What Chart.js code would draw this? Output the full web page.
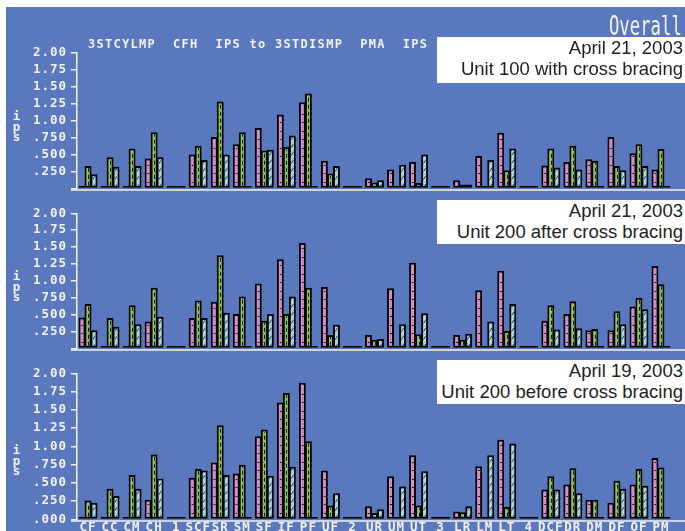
<!DOCTYPE html>
<html>
<head>
<meta charset="utf-8">
<script src="https://cdn.jsdelivr.net/npm/chart.js@4.4.1/dist/chart.umd.min.js"></script>
<style>
  html, body { margin: 0; padding: 0; }
  body { width: 685px; height: 531px; overflow: hidden; position: relative; background: #ffffff; }
  #bg { position: absolute; left: 6px; top: 7px; width: 679px; height: 524px; background: #5a78bd; }
  canvas { position: absolute; left: 0; }
  .mono { font-family: 'DejaVu Sans Mono', monospace; font-weight: bold; font-size: 12px; color: #f2f2f2; position: absolute; white-space: pre; }
  .box { position: absolute; left: 437px; width: 248px; background: #ffffff; }
  .boxtxt { position: absolute; right: 2px; top: 0; text-align: right; font-family: 'Liberation Sans', Arial, sans-serif; font-size: 18.5px; line-height: 21px; color: #222222; white-space: nowrap; }
  .ips { left: 11px; width: 11px; text-align: center; line-height: 10.5px; font-size: 12.5px; }
</style>
</head>
<body>
<div id="bg"></div>
<canvas id="c1" width="685" height="200" style="top:0px"></canvas>
<canvas id="c2" width="685" height="160" style="top:200px"></canvas>
<canvas id="c3" width="685" height="200" style="top:360px"></canvas>

<div class="mono" style="left:88px; top:38px; letter-spacing:1.28px; line-height:12px;">3STCYLMP  CFH  IPS to 3STDISMP  PMA  IPS</div>
<div style="position:absolute; right:3px; top:12px; font-family:'DejaVu Sans Mono', monospace; font-size:27px; line-height:27px; color:#f4f4f4; transform:scaleX(0.64); transform-origin:right top; white-space:pre;">Overall</div>

<div class="mono ips" style="top:111px;">i<br>p<br>s</div>
<div class="mono ips" style="top:271px;">i<br>p<br>s</div>
<div class="mono ips" style="top:445px;">i<br>p<br>s</div>

<div class="box" style="top:37px; height:46px;"><div class="boxtxt" style="top:0px;">April 21, 2003<br>Unit 100 with cross bracing</div></div>
<div class="box" style="top:200px; height:44px;"><div class="boxtxt" style="top:0px;">April 21, 2003<br>Unit 200 after cross bracing</div></div>
<div class="box" style="top:360px; height:44px;"><div class="boxtxt" style="top:0px;">April 19, 2003<br>Unit 200 before cross bracing</div></div>

<script>
// ---------------- DATA ----------------
const categories = ['CF','CC','CM','CH','1','SCF','SR','SM','SF','IF','PF','UF','2','UR','UM','UT','3','LR','LM','LT','4','DCF','DR','DM','DF','OF','PM'];

// Panel 1: April 21, 2003 - Unit 100 with cross bracing
const p1Pink  = [0, 0, 0, 0.44, 0, 0.50, 0.76, 0.65, 0.89, 1.09, 1.27, 0.41, 0, 0.15, 0.28, 0.39, 0, 0.12, 0.48, 0.82, 0, 0.34, 0.39, 0.43, 0.76, 0.52, 0.28];
const p1Green = [0.33, 0.46, 0.59, 0.83, 0, 0.63, 1.28, 0.83, 0.56, 0.61, 1.40, 0.22, 0, 0.09, 0, 0.08, 0, 0.06, 0, 0.27, 0, 0.59, 0.63, 0.41, 0.33, 0.65, 0.58];
const p1Cyan  = [0.21, 0.32, 0.33, 0.46, 0, 0.42, 0.50, 0, 0.57, 0.78, 0, 0.33, 0, 0.12, 0.35, 0.50, 0, 0.06, 0.42, 0.59, 0, 0.31, 0.28, 0, 0.27, 0.33, 0];

// Panel 2: April 21, 2003 - Unit 200 after cross bracing
const p2Pink  = [0.46, 0, 0, 0.40, 0, 0.45, 0.69, 0.51, 0.96, 1.32, 1.56, 0.91, 0, 0.20, 0.89, 1.27, 0, 0.20, 0.86, 1.15, 0, 0.41, 0.51, 0.27, 0.27, 0.62, 1.22];
const p2Green = [0.66, 0.45, 0.64, 0.90, 0, 0.71, 1.38, 0.77, 0.41, 0.51, 0.90, 0.20, 0, 0.13, 0, 0.21, 0, 0.13, 0, 0.26, 0, 0.64, 0.70, 0.29, 0.55, 0.75, 0.95];
const p2Cyan  = [0.27, 0.32, 0.36, 0.47, 0, 0.45, 0.53, 0, 0.51, 0.77, 0, 0.35, 0, 0.14, 0.36, 0.52, 0, 0.22, 0.40, 0.66, 0, 0.28, 0.30, 0, 0.36, 0.58, 0];

// Panel 3: April 19, 2003 - Unit 200 before cross bracing
const p3Pink  = [0, 0, 0, 0.27, 0, 0.57, 0.78, 0.63, 1.14, 1.60, 1.87, 0.67, 0, 0.18, 0.59, 0.88, 0, 0.11, 0.73, 1.09, 0, 0.41, 0.48, 0.27, 0.23, 0.48, 0.84];
const p3Green = [0.26, 0.42, 0.61, 0.89, 0, 0.69, 1.29, 0.75, 1.23, 1.73, 1.07, 0.19, 0, 0.09, 0, 0.19, 0, 0.10, 0, 0.17, 0, 0.59, 0.70, 0.27, 0.53, 0.69, 0.71];
const p3Cyan  = [0.23, 0.32, 0.42, 0.56, 0, 0.67, 0.61, 0, 0.60, 0.72, 0, 0.36, 0, 0.14, 0.45, 0.66, 0, 0.18, 0.88, 1.04, 0, 0.41, 0.36, 0, 0.42, 0.46, 0];

const yTickValues = [0, 0.25, 0.5, 0.75, 1, 1.25, 1.5, 1.75, 2];
const yTickLabels = ['.000', '.250', '.500', '.750', '1.00', '1.25', '1.50', '1.75', '2.00'];

// ---------------- STYLE ----------------
const WHITE = '#f2f2f2';
const TICK_FONT = { family: "'DejaVu Sans Mono', monospace", size: 12.5, weight: 'bold' };
const COLORS = { pink: '#d98bc3', green: '#8dc750', cyan: '#a3dcdc' };
const BW = 2;

const spacingPlugin = {
  id: 'spacing',
  beforeDraw(chart) { chart.ctx.letterSpacing = '1px'; }
};

const decorPlugin = {
  id: 'decor',
  afterDatasetsDraw(chart) {
    const ctx = chart.ctx;
    chart.data.datasets.forEach((ds, di) => {
      const meta = chart.getDatasetMeta(di);
      meta.data.forEach(el => {
        const p = el.getProps(['x', 'y', 'base', 'width'], true);
        const left = p.x - p.width / 2 + BW, right = p.x + p.width / 2 - BW;
        const top = Math.min(p.y, p.base) + BW, bottom = Math.max(p.y, p.base) - BW;
        if (bottom - top < 3) return;
        ctx.save();
        ctx.beginPath(); ctx.rect(left, top, right - left, bottom - top); ctx.clip();
        ctx.strokeStyle = '#151515';
        ctx.lineWidth = 1;
        if (ds.decor === 'hdash') {
          for (let yy = bottom - 4; yy > top + 1; yy -= 8.5) {
            ctx.beginPath(); ctx.moveTo(p.x - 0.5, Math.round(yy) + 0.5); ctx.lineTo(right, Math.round(yy) + 0.5); ctx.stroke();
          }
        } else if (ds.decor === 'vdash') {
          ctx.setLineDash([4, 3]);
          ctx.beginPath(); ctx.moveTo(Math.round(p.x) + 0.5, bottom); ctx.lineTo(Math.round(p.x) + 0.5, top); ctx.stroke();
        } else if (ds.decor === 'diag') {
          ctx.strokeStyle = '#333';
          const w = right - left;
          for (let yy = bottom + 2; yy > top - 2 * w; yy -= 8) {
            ctx.beginPath(); ctx.moveTo(left, yy); ctx.lineTo(right, yy - w * 1.4); ctx.stroke();
          }
        }
        ctx.restore();
      });
    });
  }
};

const baselinePlugin = {
  id: 'baseline',
  afterDatasetsDraw(chart) {
    const ctx = chart.ctx;
    const y = chart.scales.y.getPixelForValue(0) + 1.5;
    ctx.save();
    ctx.strokeStyle = WHITE;
    ctx.lineWidth = 1.5;
    ctx.beginPath(); ctx.moveTo(chart.chartArea.left - 6, y); ctx.lineTo(chart.width, y); ctx.stroke();
    ctx.restore();
  }
};

function ds(data, color, decor) {
  return {
    data: data, backgroundColor: color, borderColor: '#000', borderWidth: BW,
    borderSkipped: false, minBarLength: 2.5, barPercentage: 1.15, categoryPercentage: 0.82,
    decor: decor
  };
}

function makeChart(id, pink, green, cyan, showX, showZero, target) {
  const pad = { left: 30, right: 13, top: 10, bottom: 0 };
  const chart = new Chart(document.getElementById(id), {
    type: 'bar',
    data: {
      labels: categories,
      datasets: [ds(pink, COLORS.pink, 'hdash'), ds(green, COLORS.green, 'vdash'), ds(cyan, COLORS.cyan, 'diag')]
    },
    options: {
      responsive: false, animation: false, events: [],
      layout: { padding: pad },
      plugins: { legend: { display: false }, tooltip: { enabled: false }, title: { display: false } },
      scales: {
        x: {
          grid: { display: false, drawTicks: false },
          border: { display: false },
          ticks: { display: showX, autoSkip: false, maxRotation: 0, minRotation: 0, color: WHITE, font: TICK_FONT, padding: 1 }
        },
        y: {
          min: 0, max: 2,
          afterBuildTicks: s => { s.ticks = yTickValues.map(v => ({ value: v })); },
          grid: { drawOnChartArea: false, drawTicks: true, tickLength: 6, color: WHITE, lineWidth: 1.5 },
          border: { display: true, color: WHITE, width: 1.5 },
          ticks: {
            autoSkip: false,
            color: WHITE, font: TICK_FONT, padding: 4,
            callback: (v) => (v === 0 && !showZero) ? '' : yTickLabels[yTickValues.indexOf(v)]
          }
        }
      }
    },
    plugins: [spacingPlugin, decorPlugin, baselinePlugin]
  });
  for (let k = 0; k < 3; k++) {
    const a = chart.chartArea;
    pad.left += target.left - a.left;
    pad.top += target.top - a.top;
    pad.right += a.right - target.right;
    pad.bottom += a.bottom - target.bottom;
    chart.update();
  }
  return chart;
}

makeChart('c1', p1Pink, p1Green, p1Cyan, false, false, { left: 77, right: 672, top: 52.7, bottom: 197 });
makeChart('c2', p2Pink, p2Green, p2Cyan, false, false, { left: 77, right: 672, top: 13.3, bottom: 157.5 });
makeChart('c3', p3Pink, p3Green, p3Cyan, true, true, { left: 77, right: 672, top: 13.3, bottom: 159.5 });
</script>
</body>
</html>
